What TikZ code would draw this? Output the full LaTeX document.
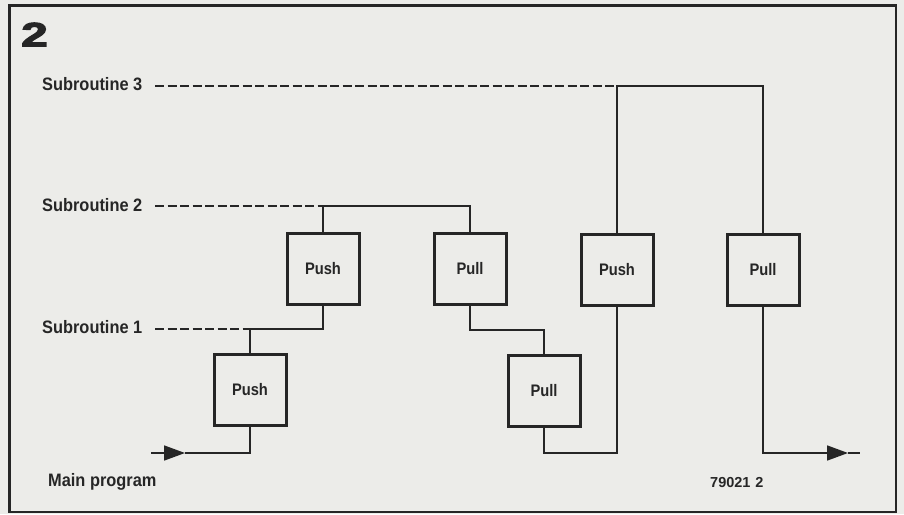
\documentclass[tikz,border=0pt]{standalone}
\usepackage{fontspec}
\setmainfont{Liberation Sans}
\newfontfamily\heavyfont{Liberation Sans Bold}[FakeBold=3]
\usetikzlibrary{arrows.meta}
\definecolor{paper}{RGB}{236,236,233}
\definecolor{ink}{RGB}{38,38,38}
\begin{document}
\begin{tikzpicture}[x=1pt,y=-1pt,
  box/.style={draw=ink,line width=3pt,minimum width=72pt,minimum height=71pt,inner sep=0pt,text=ink},
  boxtext/.style={inner sep=0pt,font=\fontsize{16.7}{19}\selectfont\bfseries,text=ink,xscale=0.88},
  wire/.style={draw=ink,line width=1.7pt},
  sub/.style={draw=ink,line width=1.7pt,dash pattern=on 9pt off 3.5pt},
  lbl/.style={anchor=base west,inner sep=0pt,font=\fontsize{18}{20}\selectfont\bfseries,text=ink,xscale=0.91},
  tip/.style={-{Triangle[length=21pt,width=15pt]}}]
\fill[paper] (0,0) rectangle (904,514);
\useasboundingbox (0,0) rectangle (904,514);
\draw[ink,line width=2.5pt] (9.5,5.5) rectangle (896,512);
\node[anchor=north west,inner sep=0pt,font=\fontsize{34}{36}\selectfont\heavyfont,text=ink,xscale=1.4] (fig) at (21,22.5) {2};
% labels
\node[lbl] (t3) at (42,90.5) {Subroutine 3};
\node[lbl] (t2) at (42,211.5) {Subroutine 2};
\node[lbl] (t1) at (42,333.5) {Subroutine 1};
\node[lbl] (tm) at (48,486) {Main program};
\node[anchor=base west,inner sep=0pt,font=\fontsize{14.5}{17}\selectfont\bfseries,text=ink] (code) at (710,487) {79021\,\,2};
% boxes
\node[box] (p1) at (250,390) {};
\node[box] (p2) at (323,268.5) {};
\node[box] (q2) at (470,268.5) {};
\node[box] (q3) at (544,390.5) {};
\node[box] (p3) at (617,269.5) {};
\node[box] (q4) at (763,269.5) {};
\node[boxtext] (p1t) at (p1) {Push};
\node[boxtext] (p2t) at (p2) {Push};
\node[boxtext] (q2t) at (q2) {Pull};
\node[boxtext] (q3t) at (q3) {Pull};
\node[boxtext] (p3t) at (p3) {Push};
\node[boxtext] (q4t) at (q4) {Pull};
% coordinates
\coordinate (in) at (151,453);
\coordinate (inTip) at (185,453);
\coordinate (j1) at (250,329);
\coordinate (j2) at (323,206);
\coordinate (j3) at (470,330);
\coordinate (j4) at (544,453);
\coordinate (j5) at (617,86);
\coordinate (j6) at (763,453);
\coordinate (outTip) at (848,453);
\coordinate (out) at (860,453);
\coordinate (s1) at (155,329);
\coordinate (s2) at (155,206);
\coordinate (s3) at (155,86);
% wires
\draw[wire,tip] (in) -- (inTip);
\draw[wire] (inTip) -| (p1.south);
\draw[wire] (p1.north) -- (j1) -| (p2.south);
\draw[wire] (p2.north) -- (j2) -| (q2.north);
\draw[wire] (q2.south) -- (j3) -| (q3.north);
\draw[wire] (q3.south) -- (j4) -| (p3.south);
\draw[wire] (p3.north) -- (j5) -| (q4.north);
\draw[wire,tip] (q4.south) -- (j6) -- (outTip);
\draw[wire] (outTip) -- (out);
% subroutine levels
\draw[sub] (s3) -- (j5);
\draw[sub] (s2) -- (j2);
\draw[sub] (s1) -- (j1);
\end{tikzpicture}
\end{document}
